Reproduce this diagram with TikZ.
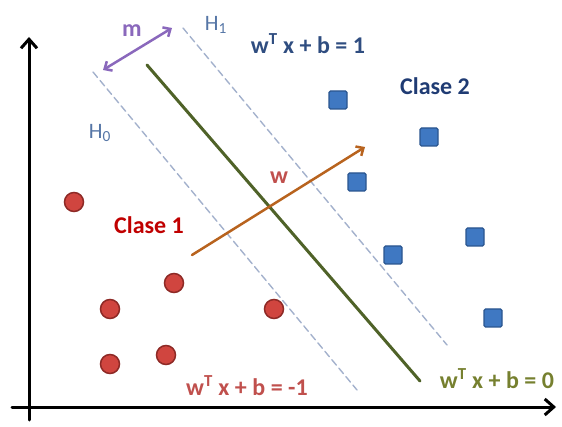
\documentclass[tikz,border=0pt]{standalone}
\usepackage{fontspec}
\setmainfont{Carlito}
\usepackage{xcolor}
\usetikzlibrary{arrows.meta}

\definecolor{dotfill}{HTML}{D0453F}
\definecolor{dotedge}{HTML}{8E2A26}
\definecolor{sqfill}{HTML}{3F78C2}
\definecolor{sqedge}{HTML}{2A558F}
\definecolor{dashcol}{HTML}{A3B1CC}
\definecolor{hypcol}{HTML}{4F6228}
\definecolor{wcol}{HTML}{B8631E}
\definecolor{mcol}{HTML}{8A68BC}
\definecolor{eqblue}{HTML}{2F4D80}
\definecolor{hcol}{HTML}{5676A6}
\definecolor{cls1}{HTML}{C00000}
\definecolor{cls2}{HTML}{1F3B73}
\definecolor{eqred}{HTML}{C0504D}
\definecolor{eqgreen}{HTML}{76802F}

\newcommand{\eqsp}{\hspace{5.5pt}}

\begin{document}
\begin{tikzpicture}[x=1pt, y=-1pt, line cap=round,
    >={Straight Barb[length=9pt, width=16pt]},
    reddot/.style={circle, draw=dotedge, fill=dotfill, line width=1.5pt, minimum size=19pt, inner sep=0pt},
    bluesq/.style={rectangle, draw=sqedge, fill=sqfill, line width=1.3pt, minimum size=18pt, inner sep=0pt, rounded corners=1.5pt},
    margin/.style={draw=dashcol, line width=1.4pt, dash pattern=on 7pt off 4pt},
    lbl/.style={font=\bfseries\fontsize{24}{26}\selectfont, inner sep=0pt},
    hlbl/.style={font=\fontsize{22}{24}\selectfont, inner sep=0pt, hcol}]

    \useasboundingbox (0,0) rectangle (562,427);

    % --- AXES ---
    \coordinate (ybot) at (29,420);
    \coordinate (ytop) at (29,37);
    \coordinate (xleft) at (12,407);
    \coordinate (xright) at (556,407);
    \draw[->, line width=3pt] (ybot) -- (ytop);
    \draw[->, line width=3pt] (xleft) -- (xright);

    % --- MARGINS AND HYPERPLANE ---
    \coordinate (h0a) at (93,72);
    \coordinate (h0b) at (357,390);
    \coordinate (h1a) at (183,28);
    \coordinate (h1b) at (447,345);
    \coordinate (hpa) at (147,65);
    \coordinate (hpb) at (420,381);
    \draw[margin] (h0a) -- (h0b);
    \draw[margin] (h1a) -- (h1b);
    \draw[hypcol, line width=3pt] (hpa) -- (hpb);

    % Margin width m
    \coordinate (ma) at (103,70);
    \coordinate (mb) at (172,28);
    \draw[mcol, <->, line width=2.5pt, >={Straight Barb[length=6pt, width=11pt]}] (ma) -- (mb);

    % Normal vector w
    \coordinate (wa) at (192,255);
    \coordinate (wb) at (365,147);
    \draw[wcol, ->, line width=2.5pt, >={Straight Barb[length=6pt, width=11pt]}] (wa) -- (wb);

    % --- CLASS 1 POINTS ---
    \node[reddot] (c1) at (74,202) {};
    \node[reddot] (c2) at (174,283) {};
    \node[reddot] (c3) at (110,309) {};
    \node[reddot] (c4) at (274,309) {};
    \node[reddot] (c5) at (110,364) {};
    \node[reddot] (c6) at (166,355) {};

    % --- CLASS 2 POINTS ---
    \node[bluesq] (s1) at (338,100) {};
    \node[bluesq] (s2) at (429,137) {};
    \node[bluesq] (s3) at (357,182) {};
    \node[bluesq] (s4) at (475,237) {};
    \node[bluesq] (s5) at (393,255) {};
    \node[bluesq] (s6) at (493,318) {};

    % --- LABELS ---
    \node[lbl, mcol] (mlab) at (132,31) {m};
    \node[hlbl] (h1lab) at (216,25) {H\textsubscript{1}};
    \node[hlbl] (h0lab) at (100,133) {H\textsubscript{0}};
    \node[lbl, eqblue] (eq1) at (308,44) {w\textsuperscript{T}\eqsp x\eqsp +\eqsp b\eqsp =\eqsp 1};
    \node[lbl, cls2] (cl2) at (435,86) {Clase 2};
    \node[lbl, cls1] (cl1) at (149,225) {Clase 1};
    \node[lbl, eqred] (wlab) at (279,178) {w};
    \node[lbl, eqred] (eqm1) at (247,386) {w\textsuperscript{T}\eqsp x\eqsp +\eqsp b\eqsp =\eqsp -1};
    \node[lbl, eqgreen] (eq0) at (497,379) {w\textsuperscript{T}\eqsp x\eqsp +\eqsp b\eqsp =\eqsp 0};

\end{tikzpicture}
\end{document}
